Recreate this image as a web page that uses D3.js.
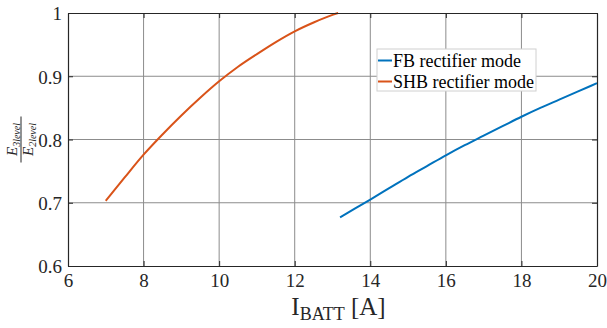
<!DOCTYPE html>
<html><head><meta charset="utf-8">
<script src="https://cdn.jsdelivr.net/npm/d3@7"></script>
<style>body{margin:0;background:#fff}svg{display:block}
svg text{font-family:"Liberation Serif","Times New Roman",Times,"DejaVu Serif",serif;}</style>
</head><body>
<script>
const xTicks = [6, 8, 10, 12, 14, 16, 18, 20];
const yTicks = [0.6, 0.7, 0.8, 0.9, 1];
const seriesNames = ["FB rectifier mode", "SHB rectifier mode"];
const fbX = [13.2, 13.6, 14, 14.5, 15, 15.5, 16, 16.5, 17, 17.5, 18, 18.5, 19, 19.5, 20];
const fbY = [0.677, 0.691, 0.705, 0.723, 0.741, 0.758, 0.775, 0.791, 0.806, 0.821, 0.836, 0.850, 0.863, 0.876, 0.889];
const shbX = [7, 7.5, 8, 8.5, 9, 9.5, 10, 10.5, 11, 11.5, 12, 12.5, 13, 13.15];
const shbY = [0.703, 0.740, 0.776, 0.808, 0.838, 0.866, 0.892, 0.915, 0.935, 0.954, 0.971, 0.985, 0.997, 1.0];
const colors = ["#0072BD", "#D95319"];

const W = 607, H = 328;
const m = {l: 68, r: 10, t: 13, b: 62};
const svg = d3.select("body").append("svg").attr("width", W).attr("height", H);
const x = d3.scaleLinear().domain([6, 20]).range([m.l, W - m.r]);
const y = d3.scaleLinear().domain([0.6, 1]).range([H - m.b, m.t]);
const font = '"Liberation Serif","Times New Roman",Times,"DejaVu Serif",serif';

// grid
const g = svg.append("g");
g.selectAll(".gx").data(xTicks.slice(1, -1)).join("line")
  .attr("x1", d => x(d)).attr("x2", d => x(d)).attr("y1", y(0.6)).attr("y2", y(1))
  .attr("stroke", "#8c8c8c").attr("stroke-width", 1);
g.selectAll(".gy").data(yTicks.slice(1, -1)).join("line")
  .attr("y1", d => y(d)).attr("y2", d => y(d)).attr("x1", x(6)).attr("x2", x(20))
  .attr("stroke", "#8c8c8c").attr("stroke-width", 1);

// lines
const line = d3.line().x(d => x(d[0])).y(d => y(d[1])).curve(d3.curveMonotoneX);
const fb = fbX.map((v, i) => [v, fbY[i]]);
const shb = shbX.map((v, i) => [v, shbY[i]]);
[fb, shb].forEach((s, i) => {
  svg.append("path").datum(s).attr("d", line).attr("fill", "none")
    .attr("stroke", colors[i]).attr("stroke-width", 2);
});

// axes
const tl = 5;
const ax = svg.append("g").attr("transform", `translate(0,${y(0.6)})`)
  .call(d3.axisBottom(x).tickValues(xTicks).tickSizeInner(-tl).tickSizeOuter(0).tickPadding(8));
const ay = svg.append("g").attr("transform", `translate(${x(6)},0)`)
  .call(d3.axisLeft(y).tickValues(yTicks).tickFormat(d => d === 1 ? "1" : d3.format(".1f")(d)).tickSizeInner(-tl).tickSizeOuter(0).tickPadding(6));
const axT = svg.append("g").attr("transform", `translate(0,${y(1)})`)
  .call(d3.axisTop(x).tickValues(xTicks).tickSizeInner(-tl).tickSizeOuter(0).tickFormat(""));
const ayR = svg.append("g").attr("transform", `translate(${x(20)},0)`)
  .call(d3.axisRight(y).tickValues(yTicks).tickSizeInner(-tl).tickSizeOuter(0).tickFormat(""));
[ax, ay, axT, ayR].forEach(a => {
  a.attr("font-family", null);
  a.select(".domain").attr("stroke", "#262626").attr("stroke-width", 1.2);
  a.selectAll(".tick line").attr("stroke", "#262626");
  a.selectAll("text").style("font-family", font).attr("font-size", 19).attr("fill", "#262626");
});
ay.selectAll("text").attr("dy", "0.36em");

// x label
const xl = svg.append("text").attr("x", x(13) + 6).attr("y", 315).attr("text-anchor", "middle")
  .style("font-family", font).attr("font-size", 25).attr("fill", "#262626");
xl.append("tspan").text("I");
xl.append("tspan").attr("font-size", 18).attr("dy", 5).text("BATT");
xl.append("tspan").attr("dy", -5).text(" [A]");

// y label: fraction
const yl = svg.append("g").attr("transform", `translate(21,${y(0.8)}) rotate(-90)`)
  .style("font-family", font).attr("fill", "#262626");
const num = yl.append("text").attr("x", 0).attr("y", -4).attr("text-anchor", "middle").attr("font-size", 15).attr("font-style", "italic");
num.append("tspan").text("E");
num.append("tspan").attr("font-size", 10).attr("dy", 3).text("3level");
const den = yl.append("text").attr("x", 0).attr("y", 12).attr("text-anchor", "middle").attr("font-size", 15).attr("font-style", "italic");
den.append("tspan").text("E");
den.append("tspan").attr("font-size", 10).attr("dy", 3).text("2level");
yl.append("line").attr("x1", -23).attr("x2", 23).attr("y1", 0).attr("y2", 0).attr("stroke", "#262626").attr("stroke-width", 1);

// legend
const lg = svg.append("g").attr("transform", "translate(377,49)");
lg.append("rect").attr("width", 159).attr("height", 42).attr("fill", "#fff").attr("stroke", "#d0d0d0").attr("stroke-width", 1);
seriesNames.forEach((n, i) => {
  const yy = 11.5 + i * 21;
  lg.append("line").attr("x1", 1).attr("x2", 15).attr("y1", yy).attr("y2", yy).attr("stroke", colors[i]).attr("stroke-width", 2);
  lg.append("text").attr("x", 16).attr("y", yy).attr("dy", "0.35em").style("font-family", font).attr("font-size", 18).attr("fill", "#000").text(n);
});
</script>
</body></html>
